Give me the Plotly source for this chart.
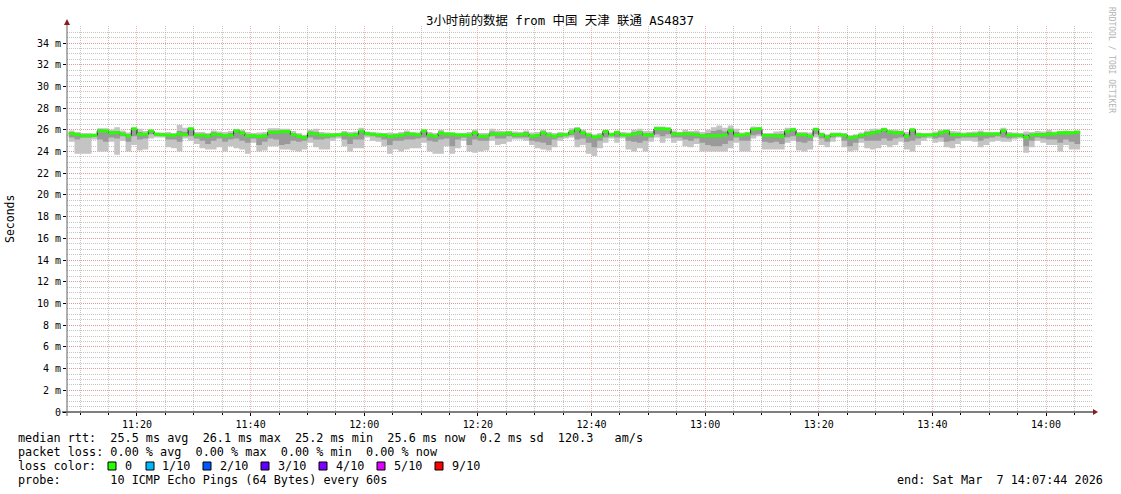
import plotly.graph_objects as go
import pandas as pd

# ---------------- data ----------------
TITLE = "3小时前的数据 from 中国 天津 联通 AS4837"
START = "2026-03-07 11:08:00"          # first 60 s step
X_RANGE = ["2026-03-07 11:07:41", "2026-03-07 14:08:16"]

median_rtt = [
    25.65, 25.57, 25.45, 25.45, 25.50, 25.90, 25.90, 25.72, 25.75, 25.60,
    25.45, 26.10, 25.60, 25.60, 25.90, 25.60, 25.55, 25.50, 25.50, 25.62,
    25.55, 26.10, 25.50, 25.50, 25.42, 25.60, 25.55, 25.45, 25.50, 25.90,
    25.72, 25.45, 25.45, 25.40, 25.45, 25.78, 25.78, 25.82, 25.85, 25.55,
    25.40, 25.30, 25.70, 25.62, 25.50, 25.50, 25.52, 25.55, 25.62, 25.50,
    25.55, 25.88, 25.65, 25.60, 25.52, 25.52, 25.40, 25.45, 25.50, 25.62,
    25.60, 25.55, 25.90, 25.50, 25.42, 25.70, 25.62, 25.62, 25.52, 25.52,
    25.50, 25.72, 25.42, 25.42, 25.62, 25.62, 25.62, 25.70, 25.55, 25.55,
    25.62, 25.42, 25.48, 25.72, 25.52, 25.42, 25.55, 25.55, 25.80, 26.05,
    25.72, 25.52, 25.35, 25.42, 25.85, 25.55, 25.72, 25.52, 25.52, 25.62,
    25.72, 25.52, 25.52, 26.10, 26.10, 26.05, 25.62, 25.62, 25.62, 25.62,
    25.55, 25.45, 25.45, 25.45, 25.45, 25.52, 25.92, 25.52, 25.52, 25.62,
    26.05, 26.10, 25.48, 25.48, 25.45, 25.40, 25.88, 26.00, 25.55, 25.55,
    25.42, 26.05, 25.55, 25.35, 25.55, 25.55, 25.50, 25.28, 25.35, 25.50,
    25.62, 25.72, 25.85, 26.00, 25.80, 25.72, 25.72, 25.42, 26.00, 25.55,
    25.52, 25.52, 25.55, 25.72, 25.85, 25.55, 25.55, 25.52, 25.55, 25.55,
    25.62, 25.62, 25.62, 25.62, 25.92, 25.52, 25.52, 25.50, 25.30, 25.52,
    25.55, 25.55, 25.62, 25.62, 25.72, 25.72, 25.72, 25.78,
]

smoke_top = [
    25.95, 25.80, 25.70, 25.70, 25.65, 26.15, 26.15, 26.00, 26.25, 25.95,
    25.75, 26.15, 26.10, 25.90, 26.00, 25.75, 25.75, 25.80, 25.70, 26.45,
    26.20, 26.20, 25.80, 25.80, 25.70, 25.95, 25.85, 25.80, 25.90, 26.10,
    26.00, 25.80, 25.70, 25.75, 25.80, 26.15, 26.15, 26.10, 26.10, 25.90,
    25.70, 25.55, 26.00, 26.10, 25.80, 25.75, 25.70, 25.70, 25.90, 25.80,
    25.85, 26.20, 25.85, 25.80, 25.75, 25.70, 25.75, 25.70, 25.80, 25.95,
    25.80, 25.75, 26.00, 25.80, 25.70, 26.00, 25.80, 25.75, 25.70, 25.70,
    25.80, 26.00, 25.70, 25.70, 26.10, 25.95, 25.90, 25.90, 25.85, 25.80,
    25.95, 25.75, 25.80, 26.00, 25.80, 25.70, 25.80, 25.75, 26.15, 26.25,
    26.00, 25.75, 25.60, 25.70, 26.00, 25.75, 25.95, 25.80, 25.75, 26.00,
    26.10, 25.90, 25.90, 26.30, 26.30, 26.25, 25.95, 25.80, 26.00, 25.90,
    25.95, 25.80, 26.00, 26.25, 26.40, 26.20, 26.40, 26.10, 25.75, 25.80,
    26.30, 26.25, 25.70, 25.70, 25.85, 25.90, 26.20, 26.20, 25.80, 25.80,
    25.75, 26.15, 25.75, 25.60, 25.75, 25.75, 25.70, 25.50, 25.60, 25.75,
    25.95, 26.10, 26.10, 26.20, 26.00, 26.00, 25.95, 25.80, 26.10, 25.75,
    25.70, 25.70, 25.85, 26.00, 26.05, 25.90, 25.85, 25.75, 25.80, 25.85,
    25.95, 25.80, 25.80, 25.80, 26.20, 25.80, 25.75, 25.70, 25.85, 25.80,
    25.90, 25.85, 26.00, 25.85, 25.90, 25.95, 25.90, 25.95,
]

smoke_bottom = [
    24.90, 23.80, 23.80, 23.80, 25.10, 24.00, 24.00, 24.90, 23.70, 25.00,
    24.00, 24.60, 24.10, 24.20, 25.20, 25.30, 25.30, 24.40, 24.30, 24.00,
    25.20, 25.00, 24.70, 24.30, 24.20, 24.20, 24.40, 24.00, 24.50, 24.30,
    24.20, 23.80, 24.80, 24.00, 24.10, 24.50, 24.50, 24.20, 24.20, 24.10,
    24.00, 24.20, 24.80, 24.40, 24.20, 24.20, 25.00, 25.20, 24.50, 24.00,
    24.30, 24.30, 25.30, 25.00, 24.90, 24.50, 23.80, 24.20, 24.00, 24.20,
    24.30, 24.30, 24.80, 24.00, 23.80, 23.80, 24.50, 23.80, 24.30, 25.00,
    24.00, 23.90, 24.00, 24.10, 25.00, 24.60, 24.70, 24.90, 25.10, 25.10,
    25.00, 24.60, 24.30, 24.20, 24.10, 24.40, 25.00, 25.20, 25.30, 24.40,
    24.60, 23.80, 23.60, 24.30, 24.80, 25.20, 24.80, 25.20, 24.20, 24.00,
    24.30, 24.00, 24.90, 25.30, 24.80, 25.20, 24.80, 25.00, 24.50, 24.40,
    24.70, 24.00, 24.00, 24.00, 24.00, 24.00, 24.30, 24.80, 24.00, 24.00,
    25.20, 25.40, 24.20, 24.20, 24.20, 24.20, 24.80, 25.00, 24.10, 24.00,
    24.20, 25.30, 24.60, 24.40, 24.90, 25.30, 24.40, 24.00, 24.10, 24.80,
    24.30, 24.20, 24.30, 24.60, 24.40, 24.60, 24.90, 24.20, 24.00, 24.60,
    25.00, 25.20, 24.80, 24.90, 24.40, 24.30, 24.70, 25.00, 25.00, 24.90,
    24.40, 24.60, 24.90, 25.00, 24.90, 24.90, 25.10, 25.20, 23.90, 24.40,
    25.00, 24.80, 24.60, 24.60, 24.00, 24.60, 24.20, 24.20,
]

smoke_mid_top = [
    25.80, 25.65, 25.55, 25.55, 25.60, 26.05, 26.00, 25.85, 25.90, 25.75,
    25.60, 26.15, 25.80, 25.70, 25.95, 25.65, 25.65, 25.65, 25.60, 25.90,
    25.80, 26.15, 25.65, 25.65, 25.60, 25.80, 25.70, 25.60, 25.70, 26.00,
    25.85, 25.60, 25.55, 25.55, 25.60, 25.95, 25.95, 25.95, 25.95, 25.70,
    25.55, 25.45, 25.85, 25.80, 25.65, 25.60, 25.60, 25.62, 25.75, 25.65,
    25.70, 26.00, 25.75, 25.70, 25.62, 25.60, 25.55, 25.55, 25.65, 25.80,
    25.70, 25.65, 25.95, 25.65, 25.55, 25.85, 25.70, 25.68, 25.60, 25.60,
    25.65, 25.85, 25.55, 25.55, 25.85, 25.75, 25.75, 25.80, 25.70, 25.65,
    25.80, 25.55, 25.60, 25.85, 25.65, 25.55, 25.65, 25.62, 25.95, 26.15,
    25.85, 25.62, 25.45, 25.55, 25.92, 25.65, 25.85, 25.65, 25.62, 25.80,
    25.90, 25.70, 25.70, 26.20, 26.20, 26.15, 25.80, 25.70, 25.80, 25.75,
    25.75, 25.60, 25.70, 25.90, 26.00, 25.85, 26.10, 25.80, 25.62, 25.70,
    26.15, 26.15, 25.58, 25.58, 25.65, 25.65, 26.00, 26.10, 25.65, 25.65,
    25.55, 26.10, 25.65, 25.48, 25.65, 25.65, 25.60, 25.40, 25.48, 25.62,
    25.80, 25.90, 25.95, 26.10, 25.90, 25.85, 25.85, 25.60, 26.05, 25.65,
    25.60, 25.60, 25.70, 25.85, 25.95, 25.72, 25.70, 25.62, 25.68, 25.70,
    25.80, 25.70, 25.70, 25.70, 26.05, 25.65, 25.62, 25.60, 25.60, 25.65,
    25.72, 25.70, 25.80, 25.72, 25.80, 25.82, 25.80, 25.85,
]

smoke_mid_bottom = [
    25.30, 25.10, 25.30, 25.30, 25.35, 25.10, 24.90, 25.30, 25.20, 25.40,
    24.90, 25.40, 25.10, 25.20, 25.60, 25.45, 25.45, 25.10, 25.10, 24.90,
    25.40, 25.40, 25.20, 25.00, 24.70, 25.00, 25.20, 24.90, 25.10, 25.20,
    25.00, 24.80, 25.20, 24.60, 24.90, 25.20, 25.10, 24.60, 24.70, 25.00,
    24.90, 25.00, 25.30, 25.10, 25.10, 25.20, 25.30, 25.40, 25.10, 24.70,
    25.10, 25.10, 25.50, 25.40, 25.30, 25.10, 24.60, 25.00, 25.00, 25.10,
    25.10, 25.20, 25.30, 25.00, 24.90, 25.10, 25.20, 24.50, 25.10, 25.30,
    24.60, 25.10, 25.00, 25.00, 25.40, 25.20, 25.20, 25.40, 25.30, 25.30,
    25.30, 25.00, 24.90, 24.80, 24.60, 25.10, 25.30, 25.40, 25.50, 25.10,
    25.20, 24.80, 24.40, 25.00, 25.30, 25.40, 25.30, 25.40, 25.00, 24.90,
    24.80, 25.00, 25.30, 25.60, 25.40, 25.60, 25.30, 25.30, 25.10, 25.00,
    25.20, 24.80, 24.60, 24.50, 24.50, 24.70, 25.00, 25.30, 25.00, 25.00,
    25.50, 25.60, 24.90, 24.80, 24.90, 24.70, 25.30, 25.40, 24.90, 24.80,
    25.00, 25.60, 25.20, 24.90, 25.30, 25.40, 25.00, 24.50, 24.80, 25.20,
    25.00, 25.00, 25.00, 25.20, 25.00, 25.20, 25.30, 24.90, 25.00, 25.20,
    25.30, 25.40, 25.20, 25.30, 24.90, 25.00, 25.20, 25.30, 25.30, 25.30,
    25.00, 25.20, 25.30, 25.40, 25.30, 25.20, 25.30, 25.35, 24.50, 25.00,
    25.30, 25.20, 25.10, 25.10, 24.80, 25.10, 24.90, 24.70,
]

y_tick_vals = [0, 2, 4, 6, 8, 10, 12, 14, 16, 18, 20, 22, 24, 26, 28, 30, 32, 34]
y_tick_text = ["0"] + [f"{v} m" for v in y_tick_vals[1:]]

loss_labels = ["0", "1/10", "2/10", "3/10", "4/10", "5/10", "9/10"]
loss_colors = ["#26ff00", "#00b8ff", "#0059ff", "#5e00ff", "#7e00ff", "#dd00ff", "#ff0000"]

legend_lines = [
    "median rtt:  25.5 ms avg  26.1 ms max  25.2 ms min  25.6 ms now  0.2 ms sd  120.3   am/s",
    "packet loss: 0.00 % avg  0.00 % max  0.00 % min  0.00 % now",
    "loss color:",
    "probe:       10 ICMP Echo Pings (64 Bytes) every 60s",
]
end_text = "end: Sat Mar  7 14:07:44 2026"
watermark = "RRDTOOL / TOBI OETIKER"

# ---------------- layout helpers (pixel geometry) ----------------
W, H = 1121, 494
PL, PR, PT, PB = 67, 1093, 26, 412
Y_MAX = 35.57
MONO = "DejaVu Sans Mono"
GREEN_HALF = 0.14   # half thickness of the median bar (style)


def px_x(px):
    return (px - PL) / (PR - PL)


def px_y(py):
    return (PB - py) / (PB - PT)


def nb(s):
    return s.replace(" ", "\u00a0")


n = len(median_rtt)
t0 = pd.Timestamp(START)
xs = [t0 + pd.Timedelta(minutes=i) for i in range(n + 1)]


def ext(a):
    return list(a) + [a[-1]]


fig = go.Figure()


def band(lo, hi, color):
    fig.add_trace(go.Scatter(x=xs, y=ext(lo), mode="lines",
                             line=dict(width=0, shape="hv"),
                             hoverinfo="skip", showlegend=False))
    fig.add_trace(go.Scatter(x=xs, y=ext(hi), mode="lines",
                             line=dict(width=0, shape="hv"),
                             fill="tonexty", fillcolor=color,
                             hoverinfo="skip", showlegend=False))


band(smoke_bottom, smoke_top, "#c4c4c4")
band(smoke_mid_bottom, smoke_mid_top, "#9a9a9a")

fig.add_trace(go.Scatter(x=xs, y=ext(median_rtt), mode="lines",
                         line=dict(width=1, color="#202020", shape="hv"),
                         hoverinfo="skip", showlegend=False))
band([v - GREEN_HALF for v in median_rtt], [v + GREEN_HALF for v in median_rtt], loss_colors[0])

major_grid = "rgba(240,120,120,0.55)"
minor_grid = "rgba(150,150,150,0.55)"

fig.update_layout(
    width=W, height=H,
    margin=dict(l=PL, r=W - PR, t=PT, b=H - PB, pad=0, autoexpand=False),
    paper_bgcolor="white", plot_bgcolor="white",
    showlegend=False,
    xaxis=dict(
        type="date", range=X_RANGE, automargin=False,
        tickmode="linear", tick0="2026-03-07 11:20:00", dtick=20 * 60 * 1000,
        tickformat="%H:%M",
        tickfont=dict(family=MONO, size=10, color="#000"),
        showgrid=True, gridcolor=major_grid, griddash="1px,1px", gridwidth=1,
        ticks="outside", ticklen=3, tickcolor="#000",
        minor=dict(tickmode="linear", tick0="2026-03-07 11:20:00", dtick=5 * 60 * 1000,
                   showgrid=True, gridcolor=minor_grid, griddash="1px,1px", gridwidth=1,
                   ticks="outside", ticklen=2, tickcolor="#000"),
        zeroline=False, showline=False, fixedrange=True,
    ),
    yaxis=dict(
        range=[0, Y_MAX], automargin=False,
        tickmode="array", tickvals=y_tick_vals, ticktext=y_tick_text,
        tickfont=dict(family=MONO, size=10, color="#000"),
        showgrid=True, gridcolor=major_grid, griddash="1px,1px", gridwidth=1,
        ticks="outside", ticklen=3, tickcolor="#000",
        minor=dict(tickmode="linear", tick0=0, dtick=0.5,
                   showgrid=True, gridcolor=minor_grid, griddash="1px,1px", gridwidth=1),
        zeroline=False, showline=False, fixedrange=True,
    ),
)

shapes = []
# axis lines
shapes.append(dict(type="line", xref="paper", yref="paper",
                   x0=px_x(62), x1=px_x(1094), y0=0, y1=0,
                   line=dict(color="#000000", width=1)))
shapes.append(dict(type="line", xref="paper", yref="paper",
                   x0=0, x1=0, y0=px_y(416), y1=px_y(23),
                   line=dict(color="#606060", width=1)))
# arrows
ax = [px_x(1093), px_x(1098)]
shapes.append(dict(type="path", xref="paper", yref="paper",
                   path=f"M {ax[0]},{px_y(409)} L {ax[1]},{px_y(412)} L {ax[0]},{px_y(415)} Z",
                   fillcolor="#8b1a1a", line=dict(width=0)))
shapes.append(dict(type="path", xref="paper", yref="paper",
                   path=f"M {px_x(64)},{px_y(25)} L {px_x(67)},{px_y(19)} L {px_x(70)},{px_y(25)} Z",
                   fillcolor="#8b1a1a", line=dict(width=0)))

annotations = []
annotations.append(dict(text=TITLE, xref="paper", yref="paper",
                        x=px_x(560), y=px_y(21), xanchor="center", yanchor="middle",
                        showarrow=False,
                        font=dict(family="DejaVu Sans Mono, Noto Sans CJK SC", size=12.4, color="#000")))
annotations.append(dict(text="Seconds", xref="paper", yref="paper",
                        x=px_x(10), y=px_y(219), xanchor="center", yanchor="middle",
                        textangle=-90, showarrow=False,
                        font=dict(family=MONO, size=11.5, color="#000")))
annotations.append(dict(text=nb(watermark), xref="paper", yref="paper",
                        x=px_x(1111), y=px_y(60), xanchor="center", yanchor="middle",
                        textangle=90, showarrow=False,
                        font=dict(family=MONO, size=8, color="#b4b4b4")))

line_y = [438, 452, 466, 480]
for txt, yy in zip(legend_lines, line_y):
    annotations.append(dict(text=nb(txt), xref="paper", yref="paper",
                            x=px_x(16), y=px_y(yy), xanchor="left", yanchor="middle",
                            showarrow=False,
                            font=dict(family=MONO, size=11.8, color="#000")))
annotations.append(dict(text=nb(end_text), xref="paper", yref="paper",
                        x=px_x(1105), y=px_y(480), xanchor="right", yanchor="middle",
                        showarrow=False,
                        font=dict(family=MONO, size=11.8, color="#000")))

sq_left = [108, 146, 203, 261, 319, 377, 435]
txt_left = [123, 160, 218, 276, 334, 392, 450]
for lab, col, sx, tx in zip(loss_labels, loss_colors, sq_left, txt_left):
    shapes.append(dict(type="rect", xref="paper", yref="paper",
                       x0=px_x(sx), x1=px_x(sx + 8), y0=px_y(470), y1=px_y(462),
                       fillcolor=col, line=dict(color="#000", width=1)))
    annotations.append(dict(text=lab, xref="paper", yref="paper",
                            x=px_x(tx), y=px_y(466), xanchor="left", yanchor="middle",
                            showarrow=False,
                            font=dict(family=MONO, size=11.8, color="#000")))

fig.update_layout(shapes=shapes, annotations=annotations)
fig.write_html(
    "out.html",
    config={"displayModeBar": False, "staticPlot": True},
    post_script="document.body.style.margin='0';document.body.style.overflow='hidden';",
)
